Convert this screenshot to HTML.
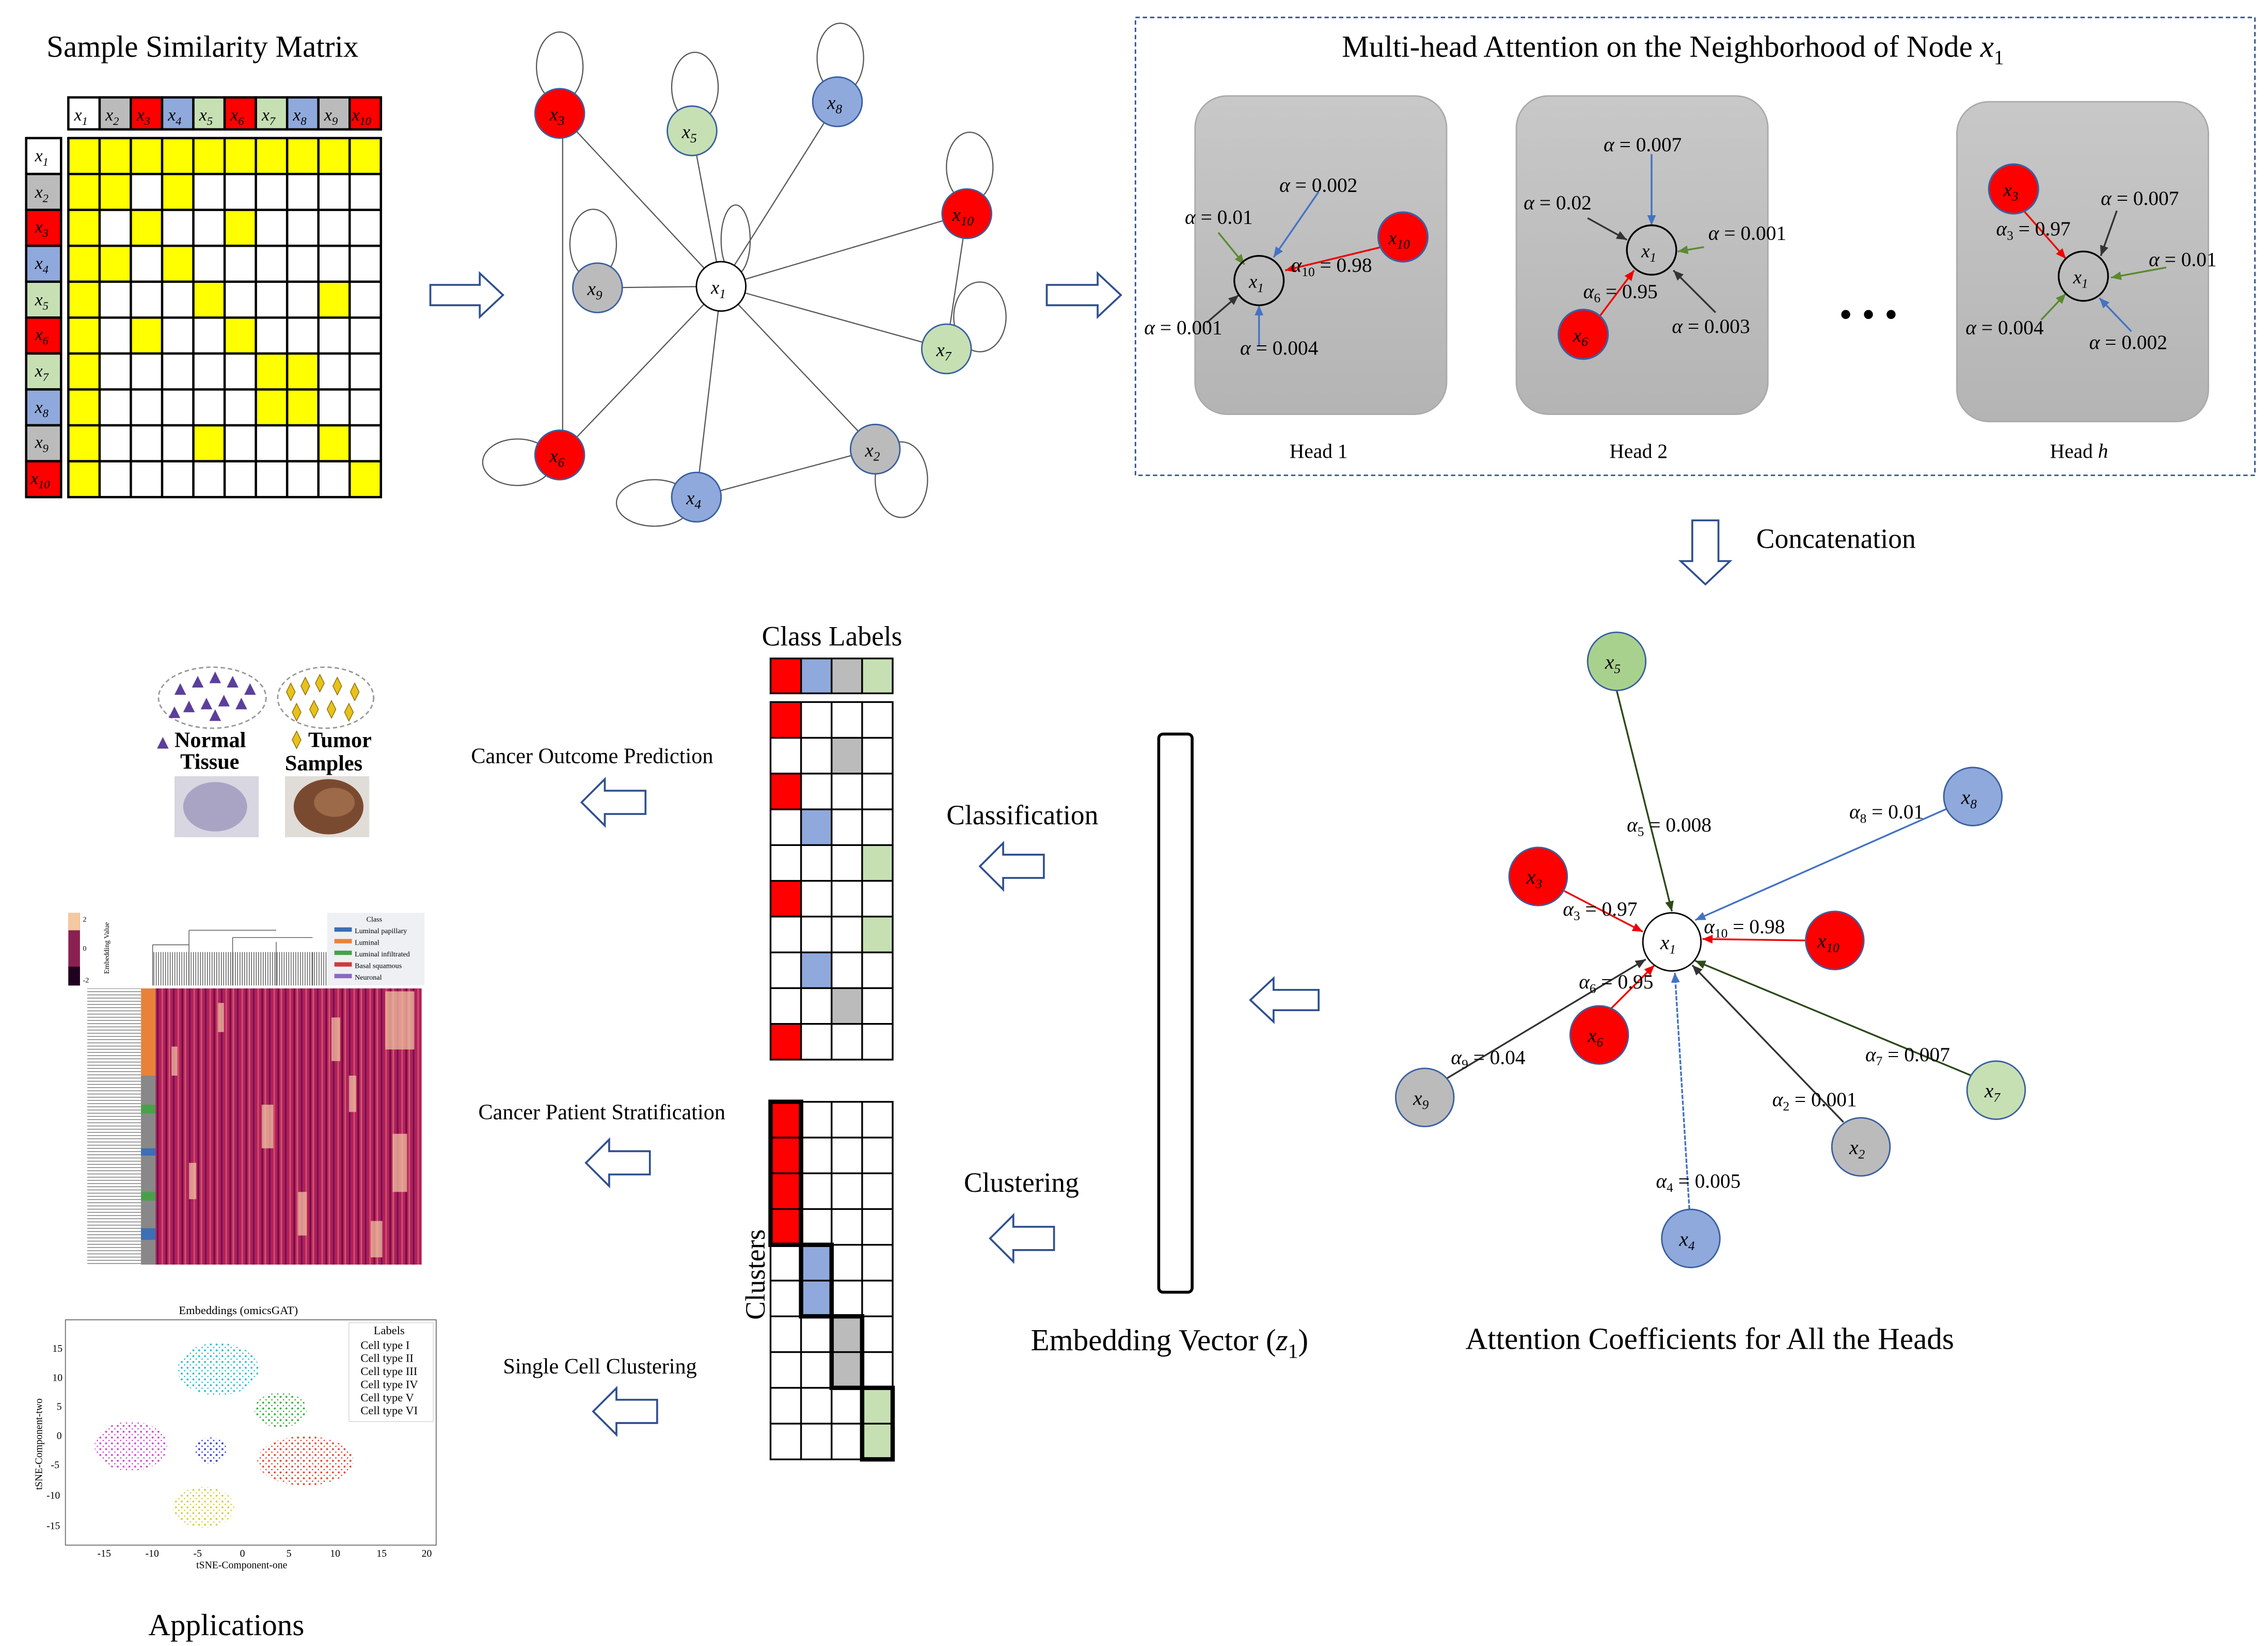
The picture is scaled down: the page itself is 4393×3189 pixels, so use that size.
<!DOCTYPE html>
<html><head><meta charset="utf-8"><style>
html,body{margin:0;padding:0;background:#fff}
svg{display:block}
text{font-family:"Liberation Serif",serif;fill:#000}
.m{font-style:italic}
</style></head><body>
<svg xmlns="http://www.w3.org/2000/svg" width="4393" height="3189" viewBox="0 0 1560 1132.4" preserveAspectRatio="none">
<defs>
<linearGradient id="hg" x1="0" y1="0" x2="0" y2="1"><stop offset="0" stop-color="#c8c8c8"/><stop offset="1" stop-color="#b4b4b4"/></linearGradient>
<marker id="ab" markerWidth="8" markerHeight="8" refX="7" refY="4" orient="auto" markerUnits="userSpaceOnUse"><path d="M0,1 L7,4 L0,7Z" fill="#4472c4"/></marker>
<marker id="ar" markerWidth="8" markerHeight="8" refX="7" refY="4" orient="auto" markerUnits="userSpaceOnUse"><path d="M0,1 L7,4 L0,7Z" fill="#e00"/></marker>
<marker id="ag" markerWidth="8" markerHeight="8" refX="7" refY="4" orient="auto" markerUnits="userSpaceOnUse"><path d="M0,1 L7,4 L0,7Z" fill="#5a8a30"/></marker>
<marker id="ak" markerWidth="8" markerHeight="8" refX="7" refY="4" orient="auto" markerUnits="userSpaceOnUse"><path d="M0,1 L7,4 L0,7Z" fill="#333"/></marker>
<marker id="adg" markerWidth="8" markerHeight="8" refX="7" refY="4" orient="auto" markerUnits="userSpaceOnUse"><path d="M0,1 L7,4 L0,7Z" fill="#2d4a1a"/></marker>
<pattern id="stripes" width="11" height="190" patternUnits="userSpaceOnUse" x="107" y="680">
<rect width="11" height="190" fill="#b0205a"/>
<rect x="1" width="1" height="190" fill="#6a1050"/>
<rect x="4" width="1.2" height="190" fill="#d04a6a"/>
<rect x="7" width="0.8" height="190" fill="#5a0840"/>
<rect x="9" width="1" height="190" fill="#d85a70"/>
</pattern>
<pattern id="vl" width="1.6" height="10" patternUnits="userSpaceOnUse"><rect width="0.5" height="10" fill="#555"/></pattern>
<pattern id="hl" width="10" height="2.2" patternUnits="userSpaceOnUse"><rect width="10" height="0.5" fill="#777"/></pattern>
<pattern id="dr" width="4" height="4" patternUnits="userSpaceOnUse"><circle cx="1" cy="1" r="0.7" fill="#e34a3a"/><circle cx="3" cy="3" r="0.5" fill="#e34a3a"/></pattern>
<pattern id="dy" width="4" height="4" patternUnits="userSpaceOnUse"><circle cx="1" cy="1" r="0.7" fill="#d8d040"/><circle cx="3" cy="3" r="0.5" fill="#d8d040"/></pattern>
<pattern id="dg" width="4" height="4" patternUnits="userSpaceOnUse"><circle cx="1" cy="1" r="0.7" fill="#3ab040"/><circle cx="3" cy="3" r="0.5" fill="#3ab040"/></pattern>
<pattern id="dc" width="4" height="4" patternUnits="userSpaceOnUse"><circle cx="1" cy="1" r="0.7" fill="#30c0d0"/><circle cx="3" cy="3" r="0.5" fill="#30c0d0"/></pattern>
<pattern id="db" width="4" height="4" patternUnits="userSpaceOnUse"><circle cx="1" cy="1" r="0.7" fill="#3a40e0"/><circle cx="3" cy="3" r="0.5" fill="#3a40e0"/></pattern>
<pattern id="dm" width="4" height="4" patternUnits="userSpaceOnUse"><circle cx="1" cy="1" r="0.7" fill="#d050d0"/><circle cx="3" cy="3" r="0.5" fill="#d050d0"/></pattern>
</defs>

<text x="32" y="39" font-size="21">Sample Similarity Matrix</text>

<!-- Matrix -->
<g stroke="#000" stroke-width="1.6">
<rect x="47" y="67" width="215" height="22" fill="#fff"/>
<rect x="68.5" y="67" width="21.5" height="22" fill="#bbb"/>
<rect x="90" y="67" width="21.5" height="22" fill="#f00"/>
<rect x="111.5" y="67" width="21.5" height="22" fill="#8fa9dc"/>
<rect x="133" y="67" width="21.5" height="22" fill="#c6e0b4"/>
<rect x="154.5" y="67" width="21.5" height="22" fill="#f00"/>
<rect x="176" y="67" width="21.5" height="22" fill="#c6e0b4"/>
<rect x="197.5" y="67" width="21.5" height="22" fill="#8fa9dc"/>
<rect x="219" y="67" width="21.5" height="22" fill="#bbb"/>
<rect x="240.5" y="67" width="21.5" height="22" fill="#f00"/>
<rect x="18" y="95" width="24" height="24.7" fill="#fff"/>
<rect x="18" y="119.7" width="24" height="24.7" fill="#bbb"/>
<rect x="18" y="144.4" width="24" height="24.7" fill="#f00"/>
<rect x="18" y="169.1" width="24" height="24.7" fill="#8fa9dc"/>
<rect x="18" y="193.8" width="24" height="24.7" fill="#c6e0b4"/>
<rect x="18" y="218.5" width="24" height="24.7" fill="#f00"/>
<rect x="18" y="243.2" width="24" height="24.7" fill="#c6e0b4"/>
<rect x="18" y="267.9" width="24" height="24.7" fill="#8fa9dc"/>
<rect x="18" y="292.6" width="24" height="24.7" fill="#bbb"/>
<rect x="18" y="317.3" width="24" height="24.7" fill="#f00"/>
</g>
<rect x="47" y="95" width="215" height="247" fill="#fff"/>
<g fill="#ff0">
<rect x="47" y="95" width="215" height="24.7"/>
<rect x="47" y="95" width="21.5" height="247"/>
<rect x="68.5" y="119.7" width="21.5" height="24.7"/><rect x="111.5" y="119.7" width="21.5" height="24.7"/>
<rect x="90" y="144.4" width="21.5" height="24.7"/><rect x="154.5" y="144.4" width="21.5" height="24.7"/>
<rect x="68.5" y="169.1" width="21.5" height="24.7"/><rect x="111.5" y="169.1" width="21.5" height="24.7"/>
<rect x="133" y="193.8" width="21.5" height="24.7"/><rect x="219" y="193.8" width="21.5" height="24.7"/>
<rect x="90" y="218.5" width="21.5" height="24.7"/><rect x="154.5" y="218.5" width="21.5" height="24.7"/>
<rect x="176" y="243.2" width="43" height="49.4"/>
<rect x="133" y="292.6" width="21.5" height="24.7"/><rect x="219" y="292.6" width="21.5" height="24.7"/>
<rect x="240.5" y="317.3" width="21.5" height="24.7"/>
</g>
<path stroke="#000" stroke-width="1.6" fill="none" d="M47,95H262V342H47Z M68.5,95V342 M90,95V342 M111.5,95V342 M133,95V342 M154.5,95V342 M176,95V342 M197.5,95V342 M219,95V342 M240.5,95V342 M47,119.7H262 M47,144.4H262 M47,169.1H262 M47,193.8H262 M47,218.5H262 M47,243.2H262 M47,267.9H262 M47,292.6H262 M47,317.3H262"/>
<g font-size="12">
<text class="m" x="51" y="83">x<tspan font-size="8" dy="3">1</tspan></text>
<text class="m" x="72.5" y="83">x<tspan font-size="8" dy="3">2</tspan></text>
<text class="m" x="94" y="83">x<tspan font-size="8" dy="3">3</tspan></text>
<text class="m" x="115.5" y="83">x<tspan font-size="8" dy="3">4</tspan></text>
<text class="m" x="137" y="83">x<tspan font-size="8" dy="3">5</tspan></text>
<text class="m" x="158.5" y="83">x<tspan font-size="8" dy="3">6</tspan></text>
<text class="m" x="180" y="83">x<tspan font-size="8" dy="3">7</tspan></text>
<text class="m" x="201.5" y="83">x<tspan font-size="8" dy="3">8</tspan></text>
<text class="m" x="223" y="83">x<tspan font-size="8" dy="3">9</tspan></text>
<text class="m" x="242" y="83">x<tspan font-size="8" dy="3">10</tspan></text>
<text class="m" x="24" y="111">x<tspan font-size="8" dy="3">1</tspan></text>
<text class="m" x="24" y="136">x<tspan font-size="8" dy="3">2</tspan></text>
<text class="m" x="24" y="160">x<tspan font-size="8" dy="3">3</tspan></text>
<text class="m" x="24" y="185">x<tspan font-size="8" dy="3">4</tspan></text>
<text class="m" x="24" y="210">x<tspan font-size="8" dy="3">5</tspan></text>
<text class="m" x="24" y="234">x<tspan font-size="8" dy="3">6</tspan></text>
<text class="m" x="24" y="259">x<tspan font-size="8" dy="3">7</tspan></text>
<text class="m" x="24" y="284">x<tspan font-size="8" dy="3">8</tspan></text>
<text class="m" x="24" y="308">x<tspan font-size="8" dy="3">9</tspan></text>
<text class="m" x="21" y="333">x<tspan font-size="8" dy="3">10</tspan></text>
</g>

<!-- block arrows -->
<g fill="#fff" stroke="#2f4f8f" stroke-width="1.3">
<path d="M296,196 H330 V188 L346,203 L330,218 V210 H296Z"/>
<path d="M720,196 H755 V188 L771,203 L755,218 V210 H720Z"/>
<path d="M1164,358 H1182 V386 H1190 L1173,402 L1156,386 H1164Z"/>
<path d="M907,681 H876 V673 L860,688 L876,703 V695 H907Z"/>
<path d="M718,588 H690 V580 L674,596 L690,612 V604 H718Z"/>
<path d="M725,844 H697 V836 L681,852 L697,868 V860 H725Z"/>
<path d="M444,544 H416 V536 L400,552 L416,568 V560 H444Z"/>
<path d="M447,792 H419 V784 L403,800 L419,816 V808 H447Z"/>
<path d="M452,963 H424 V955 L408,971 L424,987 V979 H452Z"/>
</g>

<!-- Graph 1 -->
<g stroke="#555" stroke-width="0.8" fill="none">
<ellipse cx="385" cy="46" rx="16" ry="24"/>
<ellipse cx="478" cy="60" rx="16" ry="24"/>
<ellipse cx="578" cy="40" rx="16" ry="24"/>
<ellipse cx="667" cy="115" rx="16" ry="24"/>
<ellipse cx="408" cy="168" rx="16" ry="24"/>
<ellipse cx="506" cy="165" rx="10" ry="24"/>
<ellipse cx="674" cy="218" rx="18" ry="24"/>
<ellipse cx="356" cy="318" rx="24" ry="16"/>
<ellipse cx="620" cy="330" rx="18" ry="26"/>
<ellipse cx="450" cy="346" rx="26" ry="16"/>
<line x1="496" y1="197" x2="385" y2="78"/>
<line x1="496" y1="197" x2="476" y2="90"/>
<line x1="496" y1="197" x2="576" y2="70"/>
<line x1="496" y1="197" x2="665" y2="147"/>
<line x1="496" y1="197" x2="411" y2="198"/>
<line x1="496" y1="197" x2="651" y2="240"/>
<line x1="496" y1="197" x2="385" y2="313"/>
<line x1="496" y1="197" x2="602" y2="309"/>
<line x1="496" y1="197" x2="479" y2="342"/>
<line x1="387" y1="78" x2="387" y2="313"/>
<line x1="665" y1="147" x2="651" y2="240"/>
<line x1="479" y1="342" x2="602" y2="309"/>
</g>
<g stroke="#3a5fa0" stroke-width="1">
<circle cx="385" cy="78" r="17" fill="#f00"/>
<circle cx="476" cy="90" r="17" fill="#c6e0b4"/>
<circle cx="576" cy="70" r="17" fill="#8fa9dc"/>
<circle cx="665" cy="147" r="17" fill="#f00"/>
<circle cx="411" cy="198" r="17" fill="#bbb"/>
<circle cx="496" cy="197" r="17" fill="#fff" stroke="#000"/>
<circle cx="651" cy="240" r="17" fill="#c6e0b4"/>
<circle cx="385" cy="313" r="17" fill="#f00"/>
<circle cx="602" cy="309" r="17" fill="#bbb"/>
<circle cx="479" cy="342" r="17" fill="#8fa9dc"/>
</g>
<g font-size="13">
<text class="m" x="378" y="83">x<tspan font-size="9" dy="3">3</tspan></text>
<text class="m" x="469" y="95">x<tspan font-size="9" dy="3">5</tspan></text>
<text class="m" x="569" y="75">x<tspan font-size="9" dy="3">8</tspan></text>
<text class="m" x="655" y="152">x<tspan font-size="9" dy="3">10</tspan></text>
<text class="m" x="404" y="203">x<tspan font-size="9" dy="3">9</tspan></text>
<text class="m" x="489" y="202">x<tspan font-size="9" dy="3">1</tspan></text>
<text class="m" x="644" y="245">x<tspan font-size="9" dy="3">7</tspan></text>
<text class="m" x="378" y="318">x<tspan font-size="9" dy="3">6</tspan></text>
<text class="m" x="595" y="314">x<tspan font-size="9" dy="3">2</tspan></text>
<text class="m" x="472" y="347">x<tspan font-size="9" dy="3">4</tspan></text>
</g>

<!-- Dashed box -->
<rect x="781" y="12" width="770" height="315" fill="none" stroke="#2f4f8f" stroke-width="1" stroke-dasharray="3,2"/>
<text x="923" y="39" font-size="21">Multi-head Attention on the Neighborhood of Node <tspan class="m">x</tspan><tspan font-size="14" dy="5">1</tspan></text>
<rect x="822" y="66" width="173" height="219" rx="22" fill="url(#hg)" stroke="#aaa"/>
<rect x="1043" y="66" width="173" height="219" rx="22" fill="url(#hg)" stroke="#aaa"/>
<rect x="1346" y="70" width="173" height="220" rx="22" fill="url(#hg)" stroke="#aaa"/>
<text x="887" y="315" font-size="14">Head 1</text>
<text x="1107" y="315" font-size="14">Head 2</text>
<text x="1410" y="315" font-size="14">Head <tspan class="m">h</tspan></text>
<text x="1265" y="225" font-size="26">• • •</text>

<g stroke-width="1.2" fill="none">
<line x1="838" y1="160" x2="856" y2="182" stroke="#5a8a30" marker-end="url(#ag)"/>
<line x1="907" y1="132" x2="876" y2="177" stroke="#4472c4" marker-end="url(#ab)"/>
<line x1="950" y1="170" x2="884" y2="186" stroke="#e00" marker-end="url(#ar)"/>
<line x1="830" y1="222" x2="852" y2="203" stroke="#333" marker-end="url(#ak)"/>
<line x1="866" y1="238" x2="866" y2="210" stroke="#4472c4" marker-end="url(#ab)"/>
<line x1="1136" y1="106" x2="1136" y2="155" stroke="#4472c4" marker-end="url(#ab)"/>
<line x1="1092" y1="150" x2="1119" y2="165" stroke="#333" marker-end="url(#ak)"/>
<line x1="1172" y1="170" x2="1154" y2="173" stroke="#5a8a30" marker-end="url(#ag)"/>
<line x1="1100" y1="218" x2="1124" y2="186" stroke="#e00" marker-end="url(#ar)"/>
<line x1="1180" y1="215" x2="1151" y2="186" stroke="#333" marker-end="url(#ak)"/>
<line x1="1392" y1="145" x2="1421" y2="178" stroke="#e00" marker-end="url(#ar)"/>
<line x1="1456" y1="145" x2="1445" y2="176" stroke="#333" marker-end="url(#ak)"/>
<line x1="1490" y1="184" x2="1452" y2="191" stroke="#5a8a30" marker-end="url(#ag)"/>
<line x1="1404" y1="220" x2="1421" y2="202" stroke="#5a8a30" marker-end="url(#ag)"/>
<line x1="1466" y1="228" x2="1444" y2="205" stroke="#4472c4" marker-end="url(#ab)"/>
</g>
<g stroke="#000" stroke-width="1.2">
<circle cx="866" cy="193" r="17" fill="none"/>
<circle cx="965" cy="163" r="17" fill="#f00" stroke="#3a5fa0"/>
<circle cx="1136" cy="172" r="17" fill="none"/>
<circle cx="1089" cy="230" r="17" fill="#f00" stroke="#3a5fa0"/>
<circle cx="1433" cy="190" r="17" fill="none"/>
<circle cx="1385" cy="130" r="17" fill="#f00" stroke="#3a5fa0"/>
</g>
<g font-size="13">
<text class="m" x="859" y="198">x<tspan font-size="9" dy="3">1</tspan></text>
<text class="m" x="955" y="168">x<tspan font-size="9" dy="3">10</tspan></text>
<text class="m" x="1129" y="177">x<tspan font-size="9" dy="3">1</tspan></text>
<text class="m" x="1082" y="235">x<tspan font-size="9" dy="3">6</tspan></text>
<text class="m" x="1426" y="195">x<tspan font-size="9" dy="3">1</tspan></text>
<text class="m" x="1378" y="135">x<tspan font-size="9" dy="3">3</tspan></text>
</g>
<g font-size="14">
<text x="880" y="132"><tspan class="m">α</tspan> = 0.002</text>
<text x="815" y="154"><tspan class="m">α</tspan> = 0.01</text>
<text x="888" y="187"><tspan class="m">α</tspan><tspan font-size="9" dy="3">10</tspan><tspan dy="-3"> = 0.98</tspan></text>
<text x="787" y="230"><tspan class="m">α</tspan> = 0.001</text>
<text x="853" y="244"><tspan class="m">α</tspan> = 0.004</text>
<text x="1103" y="104"><tspan class="m">α</tspan> = 0.007</text>
<text x="1048" y="144"><tspan class="m">α</tspan> = 0.02</text>
<text x="1175" y="165"><tspan class="m">α</tspan> = 0.001</text>
<text x="1089" y="205"><tspan class="m">α</tspan><tspan font-size="9" dy="3">6</tspan><tspan dy="-3"> = 0.95</tspan></text>
<text x="1150" y="229"><tspan class="m">α</tspan> = 0.003</text>
<text x="1445" y="141"><tspan class="m">α</tspan> = 0.007</text>
<text x="1373" y="162"><tspan class="m">α</tspan><tspan font-size="9" dy="3">3</tspan><tspan dy="-3"> = 0.97</tspan></text>
<text x="1478" y="183"><tspan class="m">α</tspan> = 0.01</text>
<text x="1352" y="230"><tspan class="m">α</tspan> = 0.004</text>
<text x="1437" y="240"><tspan class="m">α</tspan> = 0.002</text>
</g>
<text x="1208" y="377" font-size="19">Concatenation</text>

<!-- Bottom right graph -->
<g stroke-width="1.2">
<line x1="1112" y1="475" x2="1150" y2="627" stroke="#2d4a1a" marker-end="url(#adg)"/>
<line x1="1340" y1="556" x2="1166" y2="633" stroke="#4472c4" marker-end="url(#ab)"/>
<line x1="1076" y1="613" x2="1130" y2="641" stroke="#e00" marker-end="url(#ar)"/>
<line x1="1242" y1="647" x2="1171" y2="646" stroke="#e00" marker-end="url(#ar)"/>
<line x1="1108" y1="694" x2="1138" y2="664" stroke="#e00" marker-end="url(#ar)"/>
<line x1="995" y1="742" x2="1132" y2="660" stroke="#333" marker-end="url(#ak)"/>
<line x1="1356" y1="740" x2="1166" y2="661" stroke="#2d4a1a" marker-end="url(#adg)"/>
<line x1="1268" y1="772" x2="1164" y2="664" stroke="#333" marker-end="url(#ak)"/>
<line x1="1162" y1="832" x2="1152" y2="669" stroke="#4472c4" stroke-dasharray="3,1" marker-end="url(#ab)"/>
</g>
<g stroke="#3a5fa0" stroke-width="1">
<circle cx="1150" cy="648" r="20" fill="#fff" stroke="#000"/>
<circle cx="1112" cy="455" r="20" fill="#a9d18e"/>
<circle cx="1357" cy="548" r="20" fill="#8fa9dc"/>
<circle cx="1058" cy="603" r="20" fill="#f00"/>
<circle cx="1262" cy="647" r="20" fill="#f00"/>
<circle cx="1100" cy="712" r="20" fill="#f00"/>
<circle cx="980" cy="755" r="20" fill="#bbb"/>
<circle cx="1373" cy="750" r="20" fill="#c6e0b4"/>
<circle cx="1280" cy="789" r="20" fill="#bbb"/>
<circle cx="1163" cy="852" r="20" fill="#8fa9dc"/>
</g>
<g font-size="14">
<text class="m" x="1142" y="653">x<tspan font-size="9" dy="3">1</tspan></text>
<text class="m" x="1104" y="460">x<tspan font-size="9" dy="3">5</tspan></text>
<text class="m" x="1349" y="553">x<tspan font-size="9" dy="3">8</tspan></text>
<text class="m" x="1050" y="608">x<tspan font-size="9" dy="3">3</tspan></text>
<text class="m" x="1250" y="652">x<tspan font-size="9" dy="3">10</tspan></text>
<text class="m" x="1092" y="717">x<tspan font-size="9" dy="3">6</tspan></text>
<text class="m" x="972" y="760">x<tspan font-size="9" dy="3">9</tspan></text>
<text class="m" x="1365" y="755">x<tspan font-size="9" dy="3">7</tspan></text>
<text class="m" x="1272" y="794">x<tspan font-size="9" dy="3">2</tspan></text>
<text class="m" x="1155" y="857">x<tspan font-size="9" dy="3">4</tspan></text>
</g>
<g font-size="14">
<text x="1119" y="572"><tspan class="m">α</tspan><tspan font-size="9" dy="3">5</tspan><tspan dy="-3"> = 0.008</tspan></text>
<text x="1272" y="563"><tspan class="m">α</tspan><tspan font-size="9" dy="3">8</tspan><tspan dy="-3"> = 0.01</tspan></text>
<text x="1075" y="630"><tspan class="m">α</tspan><tspan font-size="9" dy="3">3</tspan><tspan dy="-3"> = 0.97</tspan></text>
<text x="1172" y="642"><tspan class="m">α</tspan><tspan font-size="9" dy="3">10</tspan><tspan dy="-3"> = 0.98</tspan></text>
<text x="1086" y="680"><tspan class="m">α</tspan><tspan font-size="9" dy="3">6</tspan><tspan dy="-3"> = 0.95</tspan></text>
<text x="998" y="732"><tspan class="m">α</tspan><tspan font-size="9" dy="3">9</tspan><tspan dy="-3"> = 0.04</tspan></text>
<text x="1283" y="730"><tspan class="m">α</tspan><tspan font-size="9" dy="3">7</tspan><tspan dy="-3"> = 0.007</tspan></text>
<text x="1219" y="761"><tspan class="m">α</tspan><tspan font-size="9" dy="3">2</tspan><tspan dy="-3"> = 0.001</tspan></text>
<text x="1139" y="817"><tspan class="m">α</tspan><tspan font-size="9" dy="3">4</tspan><tspan dy="-3"> = 0.005</tspan></text>
</g>
<text x="1008" y="928" font-size="21">Attention Coefficients for All the Heads</text>

<!-- Embedding vector -->
<rect x="797" y="505" width="23" height="384" rx="3" fill="#fff" stroke="#000" stroke-width="2"/>
<text x="709" y="929" font-size="21">Embedding Vector (<tspan class="m">z</tspan><tspan font-size="14" dy="5">1</tspan><tspan dy="-5">)</tspan></text>
<text x="651" y="567" font-size="19">Classification</text>
<text x="663" y="820" font-size="19">Clustering</text>

<!-- Class labels table -->
<text x="524" y="444" font-size="19">Class Labels</text>
<g stroke="#000" stroke-width="1.2">
<rect x="530" y="453" width="21" height="24" fill="#f00"/>
<rect x="551" y="453" width="21" height="24" fill="#8fa9dc"/>
<rect x="572" y="453" width="21" height="24" fill="#bbb"/>
<rect x="593" y="453" width="21" height="24" fill="#c6e0b4"/>
</g>
<g>
<rect x="530" y="483" width="84" height="246" fill="#fff"/>
<rect x="530" y="483" width="21" height="24.6" fill="#f00"/>
<rect x="572" y="507.6" width="21" height="24.6" fill="#bbb"/>
<rect x="530" y="532.2" width="21" height="24.6" fill="#f00"/>
<rect x="551" y="556.8" width="21" height="24.6" fill="#8fa9dc"/>
<rect x="593" y="581.4" width="21" height="24.6" fill="#c6e0b4"/>
<rect x="530" y="606" width="21" height="24.6" fill="#f00"/>
<rect x="593" y="630.6" width="21" height="24.6" fill="#c6e0b4"/>
<rect x="551" y="655.2" width="21" height="24.6" fill="#8fa9dc"/>
<rect x="572" y="679.8" width="21" height="24.6" fill="#bbb"/>
<rect x="530" y="704.4" width="21" height="24.6" fill="#f00"/>
</g>
<path stroke="#000" stroke-width="1.2" fill="none" d="M530,483H614V729H530Z M551,483V729 M572,483V729 M593,483V729 M530,507.6H614 M530,532.2H614 M530,556.8H614 M530,581.4H614 M530,606H614 M530,630.6H614 M530,655.2H614 M530,679.8H614 M530,704.4H614"/>
<!-- Clusters table -->
<g>
<rect x="530" y="758" width="84" height="246" fill="#fff"/>
<rect x="530" y="758" width="21" height="98.4" fill="#f00"/>
<rect x="551" y="856.4" width="21" height="49.2" fill="#8fa9dc"/>
<rect x="572" y="905.6" width="21" height="49.2" fill="#bbb"/>
<rect x="593" y="954.8" width="21" height="49.2" fill="#c6e0b4"/>
</g>
<path stroke="#000" stroke-width="1.2" fill="none" d="M530,758H614V1004H530Z M551,758V1004 M572,758V1004 M593,758V1004 M530,782.6H614 M530,807.2H614 M530,831.8H614 M530,856.4H614 M530,881H614 M530,905.6H614 M530,930.2H614 M530,954.8H614 M530,979.4H614"/>
<g fill="none" stroke="#000" stroke-width="3">
<rect x="530" y="758" width="21" height="98.4"/>
<rect x="551" y="856.4" width="21" height="49.2"/>
<rect x="572" y="905.6" width="21" height="49.2"/>
<rect x="593" y="954.8" width="21" height="49.2"/>
</g>
<text x="0" y="0" font-size="19" transform="translate(526,908) rotate(-90)">Clusters</text>

<!-- Application labels -->
<text x="324" y="525" font-size="15">Cancer Outcome Prediction</text>
<text x="329" y="770" font-size="15">Cancer Patient Stratification</text>
<text x="346" y="945" font-size="15">Single Cell Clustering</text>
<text x="102" y="1125" font-size="21">Applications</text>

<!-- Normal/Tumor -->
<ellipse cx="146" cy="480" rx="37" ry="21" fill="none" stroke="#999" stroke-dasharray="3,2"/>
<ellipse cx="224" cy="480" rx="33" ry="21" fill="none" stroke="#999" stroke-dasharray="3,2"/>
<g fill="#5b3f9a">
<path d="M124,470 l4,8 h-8z"/><path d="M136,465 l4,8 h-8z"/><path d="M148,462 l4,8 h-8z"/><path d="M160,465 l4,8 h-8z"/><path d="M130,482 l4,8 h-8z"/><path d="M142,480 l4,8 h-8z"/><path d="M154,478 l4,8 h-8z"/><path d="M166,480 l4,8 h-8z"/><path d="M120,486 l4,8 h-8z"/><path d="M148,488 l4,8 h-8z"/><path d="M172,470 l4,8 h-8z"/><path d="M112,507 l4,8 h-8z"/>
</g>
<g fill="#e8c21a" stroke="#8a6a00" stroke-width="0.5">
<path d="M200,470 l3,6 l-3,6 l-3,-6z"/><path d="M210,466 l3,6 l-3,6 l-3,-6z"/><path d="M220,464 l3,6 l-3,6 l-3,-6z"/><path d="M232,466 l3,6 l-3,6 l-3,-6z"/><path d="M244,470 l3,6 l-3,6 l-3,-6z"/><path d="M204,484 l3,6 l-3,6 l-3,-6z"/><path d="M216,482 l3,6 l-3,6 l-3,-6z"/><path d="M228,482 l3,6 l-3,6 l-3,-6z"/><path d="M240,484 l3,6 l-3,6 l-3,-6z"/><path d="M204,503 l3,6 l-3,6 l-3,-6z"/>
</g>
<text x="120" y="514" font-size="15" font-weight="bold">Normal</text>
<text x="124" y="529" font-size="15" font-weight="bold">Tissue</text>
<text x="212" y="514" font-size="15" font-weight="bold">Tumor</text>
<text x="196" y="530" font-size="15" font-weight="bold">Samples</text>
<rect x="120" y="534" width="58" height="42" fill="#d8d6e0"/>
<ellipse cx="148" cy="555" rx="22" ry="17" fill="#a9a4c4"/>
<rect x="196" y="534" width="58" height="42" fill="#e0dcd8"/>
<ellipse cx="226" cy="555" rx="24" ry="19" fill="#7a4a30"/>
<ellipse cx="230" cy="552" rx="14" ry="10" fill="#9c6a48"/>

<!-- Heatmap -->
<rect x="47" y="628" width="8" height="50" fill="#8a2050"/>
<rect x="47" y="628" width="8" height="12" fill="#f4c8a0"/>
<rect x="47" y="665" width="8" height="13" fill="#200020"/>
<text x="57" y="634" font-size="5">2</text><text x="57" y="654" font-size="5">0</text><text x="57" y="676" font-size="5">-2</text>
<text x="0" y="0" font-size="5" transform="translate(75,670) rotate(-90)">Embedding Value</text>
<path d="M105,678 V650 M130,678 V640 M160,678 V645 M190,678 V648 M215,678 V655 M105,650 H130 M130,640 H190 M160,645 H215" stroke="#555" stroke-width="0.5" fill="none"/>
<rect x="105" y="655" width="120" height="23" fill="url(#vl)"/>
<rect x="225" y="628" width="67" height="50" fill="#eef0f4"/>
<text x="252" y="634" font-size="5">Class</text>
<g font-size="5"><rect x="230" y="638" width="12" height="3" fill="#3b6fb6"/><text x="244" y="642">Luminal papillary</text>
<rect x="230" y="646" width="12" height="3" fill="#e8823a"/><text x="244" y="650">Luminal</text>
<rect x="230" y="654" width="12" height="3" fill="#4aa04a"/><text x="244" y="658">Luminal infiltrated</text>
<rect x="230" y="662" width="12" height="3" fill="#d03a3a"/><text x="244" y="666">Basal squamous</text>
<rect x="230" y="670" width="12" height="3" fill="#8a6ac0"/><text x="244" y="674">Neuronal</text></g>
<rect x="60" y="680" width="37" height="190" fill="url(#hl)"/>
<rect x="97" y="680" width="10" height="190" fill="#e8823a"/>
<rect x="97" y="740" width="10" height="130" fill="#888"/>
<rect x="97" y="760" width="10" height="6" fill="#4aa04a"/><rect x="97" y="790" width="10" height="5" fill="#3b6fb6"/><rect x="97" y="820" width="10" height="6" fill="#4aa04a"/><rect x="97" y="845" width="10" height="8" fill="#3b6fb6"/>
<rect x="107" y="680" width="183" height="190" fill="url(#stripes)"/>
<g fill="#f0c0a0" opacity="0.75">
<rect x="265" y="682" width="20" height="40"/><rect x="228" y="700" width="6" height="30"/><rect x="240" y="740" width="5" height="25"/><rect x="180" y="760" width="8" height="30"/><rect x="150" y="690" width="4" height="20"/><rect x="270" y="780" width="10" height="40"/><rect x="130" y="800" width="5" height="25"/><rect x="205" y="820" width="6" height="30"/><rect x="255" y="840" width="8" height="25"/><rect x="118" y="720" width="4" height="20"/>
</g>

<!-- tSNE -->
<text x="123" y="904" font-size="8">Embeddings (omicsGAT)</text>
<rect x="45" y="908" width="255" height="155" fill="#fff" stroke="#666" stroke-width="0.6"/>
<ellipse cx="210" cy="1005" rx="33" ry="17" fill="url(#dr)"/>
<ellipse cx="140" cy="1037" rx="21" ry="14" fill="url(#dy)"/>
<ellipse cx="193" cy="970" rx="18" ry="12" fill="url(#dg)"/>
<ellipse cx="150" cy="942" rx="28" ry="18" fill="url(#dc)"/>
<ellipse cx="145" cy="998" rx="11" ry="9" fill="url(#db)"/>
<ellipse cx="90" cy="995" rx="25" ry="17" fill="url(#dm)"/>
<rect x="240" y="910" width="58" height="68" fill="#fff" stroke="#ccc" stroke-width="0.4"/>
<g font-size="8"><text x="257" y="918">Labels</text>
<text x="248" y="928">Cell type I</text><text x="248" y="937">Cell type II</text><text x="248" y="946">Cell type III</text><text x="248" y="955">Cell type IV</text><text x="248" y="964">Cell type V</text><text x="248" y="973">Cell type VI</text></g>
<g font-size="7"><text x="36" y="930">15</text><text x="36" y="950">10</text><text x="39" y="970">5</text><text x="39" y="990">0</text><text x="35" y="1010">-5</text><text x="32" y="1031">-10</text><text x="32" y="1052">-15</text>
<text x="67" y="1071">-15</text><text x="100" y="1071">-10</text><text x="133" y="1071">-5</text><text x="165" y="1071">0</text><text x="197" y="1071">5</text><text x="227" y="1071">10</text><text x="259" y="1071">15</text><text x="290" y="1071">20</text>
<text x="135" y="1079">tSNE-Component-one</text>
<text x="0" y="0" transform="translate(29,1025) rotate(-90)">tSNE-Component-two</text></g>
</svg>
</body></html>
